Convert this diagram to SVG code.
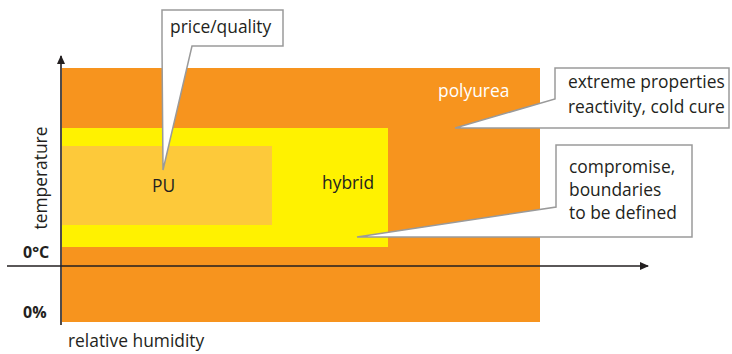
<svg xmlns="http://www.w3.org/2000/svg" width="732" height="354" viewBox="0 0 732 354">
<defs>
<style>
text{font-family:"Open Sans","Noto Sans","Liberation Sans",sans-serif;font-size:17.4px;fill:#231f20}
.b{font-weight:bold;font-size:16px}
.w{fill:#ffffff}
.call{fill:#ffffff;stroke:#9a9a9a;stroke-width:1.5}
.ax{stroke:#231f20;stroke-width:1.6;fill:none}
</style>
<marker id="ah" markerWidth="10" markerHeight="10" refX="8" refY="5" orient="auto" markerUnits="userSpaceOnUse">
<path d="M0,1 L9,5 L0,9 Z" fill="#231f20"/>
</marker>
</defs>
<rect width="732" height="354" fill="#ffffff"/>
<g id="polyurea">
<rect x="62" y="68" width="478" height="254" fill="#f7941e"/>
<text class="w" x="438" y="97">polyurea</text>
</g>
<g id="hybrid">
<rect x="62" y="128" width="326" height="119" fill="#fff200"/>
<text x="322" y="189">hybrid</text>
</g>
<g id="pu">
<rect x="62" y="146" width="210" height="79" fill="#fdc93a"/>
<text x="152" y="192">PU</text>
</g>
<g id="axes">
<line class="ax" x1="61" y1="325" x2="61" y2="56" marker-end="url(#ah)"/>
<line class="ax" x1="7" y1="266" x2="648" y2="266" marker-end="url(#ah)"/>
<text transform="translate(47,178) rotate(-90)" text-anchor="middle">temperature</text>
<text class="b" x="23" y="258">0°C</text>
<text class="b" x="23" y="318">0%</text>
<text x="68" y="347">relative humidity</text>
</g>
<g id="connectors">
<path class="call" d="M162,10 H283 V46 H192 L163,170 L162,46 Z"/>
<path class="call" d="M555,68 H729 V128 H455 L555,99 Z"/>
<path class="call" d="M556,145 H692 V237 H357 L556,207 Z"/>
</g>
<g id="callout-price">
<text x="170" y="33">price/quality</text>
</g>
<g id="callout-extreme">
<text x="568" y="88">extreme properties</text>
<text x="568" y="113">reactivity, cold cure</text>
</g>
<g id="callout-compromise">
<text x="569" y="173">compromise,</text>
<text x="569" y="196">boundaries</text>
<text x="569" y="219">to be defined</text>
</g>
</svg>
